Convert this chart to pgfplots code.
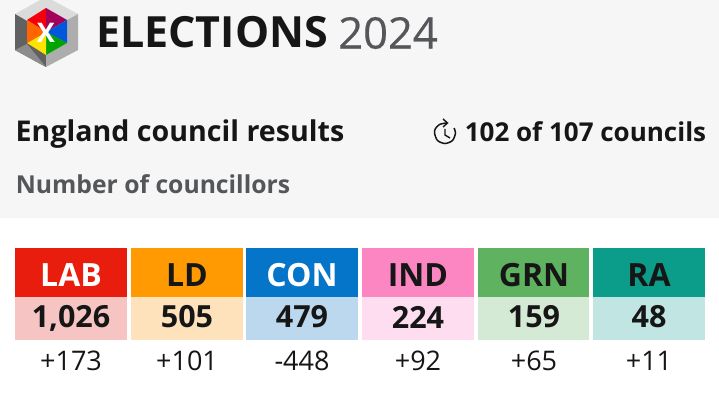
\documentclass[border=0pt]{standalone}
\usepackage{pgfplots}
\pgfplotsset{compat=1.18}
\usepackage{fontspec}
\setmainfont{Open Sans}
\definecolor{bgg}{HTML}{F6F6F6}
\definecolor{ink}{HTML}{161616}
\definecolor{sub}{HTML}{54565A}
\definecolor{cLAB}{HTML}{E91D0E}\definecolor{pLAB}{HTML}{F6C4C2}
\definecolor{cLD}{HTML}{FF9A02}\definecolor{pLD}{HTML}{FEE2BC}
\definecolor{cCON}{HTML}{0575C9}\definecolor{pCON}{HTML}{BBD8EE}
\definecolor{cIND}{HTML}{FC86C2}\definecolor{pIND}{HTML}{FDDDEF}
\definecolor{cGRN}{HTML}{5FB25F}\definecolor{pGRN}{HTML}{D5EAD5}
\definecolor{cRA}{HTML}{0C9C8A}\definecolor{pRA}{HTML}{C0E5E2}
\pgfplotsset{lbl/.style={only marks,mark=none,nodes near coords,point meta=explicit symbolic,
  every node near coord/.append style={anchor=center,inner sep=0pt,outer sep=0pt,font=#1}}}
\newcommand\bx[5]{\addplot[fill=#5,draw=none] coordinates {(#1,#3)(#2,#3)(#2,#4)(#1,#4)} --cycle;}
\begin{document}
\begin{tikzpicture}
\begin{axis}[x=1pt,y=1pt,y dir=reverse,xmin=0,xmax=719,ymin=0,ymax=406,hide axis,
  clip=false,scale only axis,anchor=south west,at={(0,0)}]
\addplot[fill=bgg,draw=none] coordinates {(0,0)(719,0)(719,218)(0,218)} --cycle;
\addplot[fill=white,draw=none] coordinates {(0,218)(719,218)(719,406)(0,406)} --cycle;
% boxes
\bx{15}{127}{248}{297}{cLAB}\bx{15}{127}{297}{340}{pLAB}
\bx{131}{243}{248}{297}{cLD}\bx{131}{243}{297}{340}{pLD}
\bx{246}{358}{248}{297}{cCON}\bx{246}{358}{297}{340}{pCON}
\bx{362}{474}{248}{297}{cIND}\bx{362}{474}{297}{340}{pIND}
\bx{478}{589}{248}{297}{cGRN}\bx{478}{589}{297}{340}{pGRN}
\bx{593}{705}{248}{297}{cRA}\bx{593}{705}{297}{340}{pRA}
% logo
\addplot[fill=black!14,draw=none] coordinates {(40,0)(52,0)(78,14)(46,32)(15,14)} --cycle;
\addplot[fill=black!62,draw=none] coordinates {(15,14)(46,32)(46,67)(15,50)} --cycle;
\addplot[fill=black!32,draw=none] coordinates {(78,14)(46,32)(46,67)(78,50)} --cycle;
\addplot[fill=black!45,draw=none] coordinates {(27,44)(46,67)(15,50)} --cycle;
% colour hexagon
\addplot[fill=red!85!purple,draw=none] coordinates {(46,32)(46,8)(27,20)} --cycle;
\addplot[fill=purple!85!blue,draw=none] coordinates {(46,32)(46,8)(67,20)} --cycle;
\addplot[fill=blue!60!cyan!85!black,draw=none] coordinates {(46,32)(67,20)(67,43)} --cycle;
\addplot[fill=green!65!black,draw=none] coordinates {(46,32)(67,43)(46,55)} --cycle;
\addplot[fill=yellow!85!orange,draw=none] coordinates {(46,32)(46,55)(27,43)} --cycle;
\addplot[fill=orange!80!red,draw=none] coordinates {(46,32)(27,43)(27,20)} --cycle;
\addplot[lbl={\bfseries\fontsize{27}{27}\selectfont},white] table[meta=t,col sep=comma] {
x,y,t
46,33,X
};
% clock
\addplot[draw=ink,line width=1.5pt,no markers,smooth] coordinates {(446,123)(439.5,124.5)(435.5,128.5)(434.5,133)(437.5,140.5)(445,143.5)(452.5,140.5)(455.5,133)(454,128)};
\addplot[draw=ink,line width=1.4pt,no markers] coordinates {(443,119)(447.5,123)(443,127)};
\addplot[draw=ink,line width=1.4pt,no markers] coordinates {(445,129)(445,135)(450,138)};
% titles
\addplot[lbl={\bfseries\fontsize{43}{43}\selectfont},ink] table[meta=t,col sep=comma] {
x,y,t
212,32,ELECTIONS
};
\addplot[lbl={\fontsize{43.5}{43.5}\selectfont\addfontfeature{FakeBold=0.4}},sub] table[meta=t,col sep=comma] {
x,y,t
388,33,2024
};
\addplot[lbl={\bfseries\fontsize{28.6}{28.6}\selectfont},ink] table[meta=t,col sep=comma] {
x,y,t
180,134,England council results
};
\addplot[lbl={\bfseries\fontsize{26}{26}\selectfont},ink] table[meta=t,col sep=comma] {
x,y,t
585.5,132,102 of 107 councils
};
\addplot[lbl={\bfseries\fontsize{24.7}{24.7}\selectfont},sub] table[meta=t,col sep=comma] {
x,y,t
153,184,Number of councillors
};
% party names
\addplot[lbl={\bfseries\fontsize{32}{32}\selectfont},white] table[meta=t,col sep=comma] {
x,y,t
71,275,LAB
302,275,CON
};
\addplot[lbl={\bfseries\fontsize{32}{32}\selectfont},ink] table[meta=t,col sep=comma] {
x,y,t
187,275,LD
418,275,IND
534,275,GRN
649,275,RA
};
\addplot[lbl={\bfseries\fontsize{30.5}{30.5}\selectfont},ink] table[meta=t,col sep=semicolon] {
x;y;t
71;318;{1,026}
187;317;505
302;317;479
418;317;224
534;317;159
649;317;48
};
\addplot[lbl={\fontsize{27}{27}\selectfont},ink] table[meta=t,col sep=comma] {
x,y,t
71,361,+173
187,361,+101
302,361,-448
418,361,+92
534,361,+65
649,361,+11
};
\end{axis}
\end{tikzpicture}
\end{document}
